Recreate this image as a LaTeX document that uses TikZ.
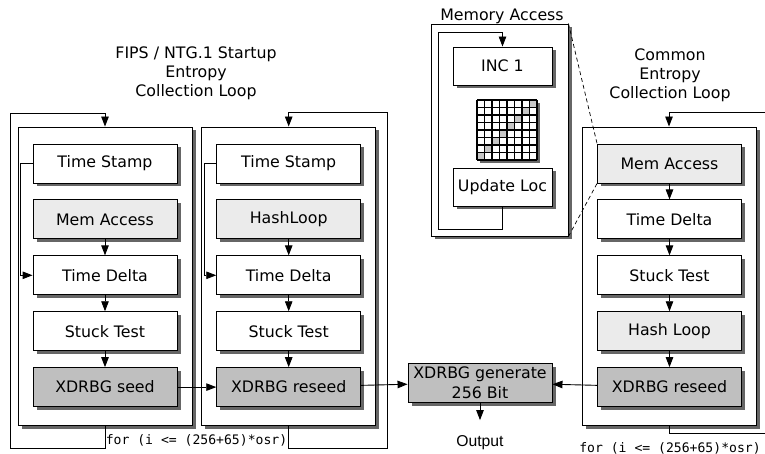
\documentclass[tikz,border=0pt]{standalone}
\usepackage{fontspec}
\setmainfont{DejaVu Sans}
\setmonofont{DejaVu Sans Mono}
\newfontfamily\outfont{Liberation Sans}
\usetikzlibrary{shadows,arrows.meta,positioning}
\definecolor{lightfill}{HTML}{EBEBEB}
\definecolor{darkfill}{HTML}{BFBFBF}

\begin{document}
\begin{tikzpicture}[x=1pt,y=-1pt,line width=0.9pt,
  font=\fontsize{15.8}{19}\selectfont,
  >={Triangle[length=10pt,width=7.5pt]},
  shade/.style={drop shadow={shadow xshift=3.5pt,shadow yshift=-3.5pt,fill=black!60,opacity=1}},
  box/.style={draw,fill=white,shade,minimum width=144pt,minimum height=39pt,inner sep=0pt,align=center},
  lbox/.style={box,fill=lightfill},
  dbox/.style={box,fill=darkfill},
  smallbox/.style={box,minimum width=99pt,minimum height=38pt},
  frame/.style={draw,fill=white,shade,inner sep=0pt},
  mono/.style={font=\fontsize{13.1}{15}\ttfamily}]
  \useasboundingbox (0,0) rectangle (765,454);

  \node[align=center] (t1) at (196,73) {FIPS / NTG.1 Startup\\Entropy\\Collection Loop};
  \node[align=center] (t3) at (670,75) {Common\\Entropy\\Collection Loop};
  \node (mt) at (502,16) {Memory Access};

  \node[frame,minimum width=174pt,minimum height=298pt] (f1) at (105,276) {};
  \node[frame,minimum width=174pt,minimum height=298pt] (f2) at (288.7,276) {};
  \node[frame,minimum width=174pt,minimum height=298pt] (f3) at (669,276) {};
  \node[frame,minimum width=137pt,minimum height=212pt] (mf) at (499.5,130) {};

  \node[box]  (ts1) at (105,163.5) {Time Stamp};
  \node[lbox] (ma1) [below=16pt of ts1] {Mem Access};
  \node[box]  (td1) [below=16pt of ma1] {Time Delta};
  \node[box]  (st1) [below=16pt of td1] {Stuck Test};
  \node[dbox] (xs1) [below=16pt of st1] {XDRBG seed};

  \node[box]  (ts2) at (288.7,163.5) {Time Stamp};
  \node[lbox] (hl2) [below=16pt of ts2] {HashLoop};
  \node[box]  (td2) [below=16pt of hl2] {Time Delta};
  \node[box]  (st2) [below=16pt of td2] {Stuck Test};
  \node[dbox] (xr2) [below=16pt of st2] {XDRBG reseed};

  \node[lbox] (ma3) at (669.5,163.5) {Mem Access};
  \node[box]  (td3) [below=16pt of ma3] {Time Delta};
  \node[box]  (st3) [below=16pt of td3] {Stuck Test};
  \node[lbox] (hl3) [below=16pt of st3] {Hash Loop};
  \node[dbox] (xr3) [below=16pt of hl3] {XDRBG reseed};

  \node[dbox,font=\fontsize{15.8}{19.5}\selectfont] (gen) at (480,382.5) {XDRBG generate\\256 Bit};
  \node[font=\fontsize{15.7}{18}\outfont] (out) at (480,443) {Output};

  \node[smallbox] (inc) at (502.5,66) {INC 1};
  \node[smallbox] (upd) at (502.5,187) {Update Loc};

  \begin{scope}[shift={(477,100)}]
    \fill[black!60] (3,3) rectangle (63,63);
    \fill[white] (0,0) rectangle (60,60);
    \foreach \i in {0,...,7}
      \fill[black!22] (7.5*\i,52.5-7.5*\i) rectangle +(7.5,7.5);
    \draw[step=7.5pt,line width=1.2pt] (0,0) grid (60,60);
  \end{scope}

  \node[mono] (for1) at (196.5,440) {for (i <= (256+65)*osr)};
  \node[mono] (for3) at (670,448) {for (i <= (256+65)*osr)};

  \coordinate (l1a) at (10,448);
  \coordinate (l1b) at (10,113);
  \coordinate (l2a) at (387,448);
  \coordinate (l2b) at (387,112);
  \coordinate (l3a) at (765,433);
  \coordinate (l3b) at (765,112);
  \coordinate (m1) at (438,229);
  \coordinate (m2) at (438,32);

  \draw[->] (f1.south) |- (l1a) -- (l1b) -| (f1.north);
  \draw[->] (f2.south) |- (l2a) -- (l2b) -| (f2.north);
  \draw (f3.south) |- (l3a);
  \draw[->] (l3b) -| (f3.north);
  \draw[->] (upd.south) |- (m1) -- (m2) -| (inc.north);

  \draw[->] (ts1.west) -- ++(-12,0) |- (td1.west);
  \draw[->] (ma1) -- (td1);
  \draw[->] (td1) -- (st1);
  \draw[->] (st1) -- (xs1);

  \draw[->] (ts2.west) -- ++(-12,0) |- (td2.west);
  \draw[->] (hl2) -- (td2);
  \draw[->] (td2) -- (st2);
  \draw[->] (st2) -- (xr2);

  \draw[->] (ma3) -- (td3);
  \draw[->] (td3) -- (st3);
  \draw[->] (st3) -- (hl3);
  \draw[->] (hl3) -- (xr3);

  \draw[->] (xs1) -- (xr2);
  \draw[->] (xr2) -- (gen);
  \draw[->] (xr3) -- (gen);
  \draw[->,shorten >=12pt] (gen) -- (out);

  \draw[dashed,line width=0.7pt,dash pattern=on 4pt off 3pt] (mf.north east) -- (ma3.north west);
  \draw[dashed,line width=0.7pt,dash pattern=on 4pt off 3pt] (mf.south east) -- (ma3.south west);
\end{tikzpicture}
\end{document}
